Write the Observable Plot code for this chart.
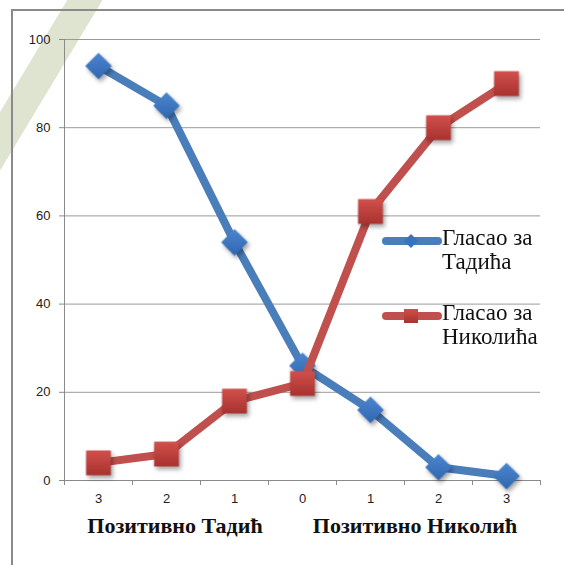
<!DOCTYPE html>
<html><head><meta charset="utf-8">
<script src="https://cdn.jsdelivr.net/npm/d3@7"></script>
<script src="https://cdn.jsdelivr.net/npm/@observablehq/plot@0.6"></script>
<style>
html,body{margin:0;padding:0;background:#fff;}
#wrap{position:relative;width:564px;height:565px;overflow:hidden;
 background: linear-gradient(121deg, rgba(223,228,208,0) 7.4%, #dfe4d0 7.5%, #dfe4d0 11.3%, rgba(223,228,208,0) 11.4%), #fff;}
#frame{position:absolute;left:11px;top:9px;width:700px;height:700px;border-left:2px solid #8a8a8a;border-top:2px solid #8a8a8a;}
#chart{position:absolute;left:0;top:0;width:564px;}
#chart svg g[aria-label="dot"]{filter:drop-shadow(2px 3px 2px rgba(0,0,0,0.35));}
.titles{margin-top:6px;padding-left:55px;font-family:'Liberation Serif','Times New Roman',serif;font-weight:bold;font-size:22px;line-height:30px;color:#111;white-space:nowrap;}
.titles span{display:inline-block;width:240px;text-align:center;}
.entry{position:absolute;left:382px;font-family:'Liberation Serif','Times New Roman',serif;font-size:23px;line-height:24px;color:#111;}
.entry .sw{position:absolute;left:0;width:60px;height:8px;border-radius:4px;}
.entry .mk{position:absolute;}
.entry .txt{position:absolute;left:60px;top:0;white-space:nowrap;}
</style></head>
<body>
<div id="wrap"><div id="frame"></div><div id="chart"></div></div>
<script>
const categories = ["3","2","1","0","1","2","3"];
const tadic = [94, 85, 54, 26, 16, 3, 1];
const nikolic = [4, 6, 18, 22, 61, 80, 90];
const yTicks = [0, 20, 40, 60, 80, 100];
const groupTitles = ["Позитивно Тадић", "Позитивно Николић"];
const seriesNames = [["Гласао за", "Тадића"], ["Гласао за", "Николића"]];
const colors = ["#4a7ebb", "#c0504d"];

const idx = d3.range(categories.length);
const blue = idx.map(i => ({i, v: tadic[i]}));
const red = idx.map(i => ({i, v: nikolic[i]}));
const bounds = d3.range(categories.length + 1).map(i => i - 0.5);

const svg = Plot.plot({
  width: 564, height: 505,
  marginLeft: 64, marginRight: 24, marginTop: 39, marginBottom: 25,
  style: {background: "none", fontFamily: "'Liberation Sans', Arial, sans-serif", fontSize: "13px", color: "#222"},
  x: {type: "linear", domain: [-0.5, categories.length - 0.5], axis: null},
  y: {domain: [0, 100], axis: null},
  marks: [
    Plot.gridY(yTicks, {stroke: "#9a9a9a", strokeOpacity: 1}),
    Plot.axisY(yTicks, {tickSize: 5, tickPadding: 9, stroke: "#8a8a8a", label: null}),
    Plot.ruleX([-0.5], {stroke: "#8a8a8a"}),
    Plot.ruleY([0], {stroke: "#8a8a8a"}),
    Plot.axisX(bounds, {tickSize: 5, tickFormat: () => "", stroke: "#8a8a8a", label: null}),
    Plot.axisX(idx, {tickSize: 0, tickPadding: 13, tickFormat: i => categories[i], label: null}),
    Plot.line(blue, {x: "i", y: "v", stroke: colors[0], strokeWidth: 8}),
    Plot.dot(blue, {x: "i", y: "v", symbol: "diamond2", r: 12, fill: "url(#gBlue)"}),
    Plot.line(red, {x: "i", y: "v", stroke: colors[1], strokeWidth: 8}),
    Plot.dot(red, {x: "i", y: "v", symbol: "square", r: 14, fill: "url(#gRed)"})
  ]
});

const defs = d3.select(svg).insert("defs", ":first-child");
function grad(id, top, bottom) {
  const g = defs.append("linearGradient").attr("id", id).attr("x1", 0).attr("y1", 0).attr("x2", 0).attr("y2", 1);
  g.append("stop").attr("offset", "0%").attr("stop-color", top);
  g.append("stop").attr("offset", "100%").attr("stop-color", bottom);
}
grad("gBlue", "#4d86d0", "#2f66b0");
grad("gRed", "#d2504c", "#a8322f");

const chart = document.getElementById("chart");
chart.appendChild(svg);

const titles = document.createElement("div");
titles.className = "titles";
groupTitles.forEach(t => { const s = document.createElement("span"); s.textContent = t; titles.appendChild(s); });
chart.appendChild(titles);

const wrap = document.getElementById("wrap");
const entryTops = [226, 301];
seriesNames.forEach((lines, k) => {
  const e = document.createElement("div");
  e.className = "entry";
  e.style.top = entryTops[k] + "px";
  const sw = document.createElement("div");
  sw.className = "sw";
  sw.style.top = "11px";
  sw.style.background = colors[k];
  e.appendChild(sw);
  const mk = document.createElement("div");
  mk.className = "mk";
  if (k === 0) {
    Object.assign(mk.style, {left: "24px", top: "10px", width: "10px", height: "10px", background: "#3a73bd", transform: "rotate(45deg)"});
  } else {
    Object.assign(mk.style, {left: "22px", top: "8px", width: "14px", height: "14px", background: "linear-gradient(#cf4f4b,#a8322f)"});
  }
  e.appendChild(mk);
  const tx = document.createElement("div");
  tx.className = "txt";
  tx.innerHTML = lines.join("<br>");
  e.appendChild(tx);
  wrap.appendChild(e);
});
</script>
</body></html>
